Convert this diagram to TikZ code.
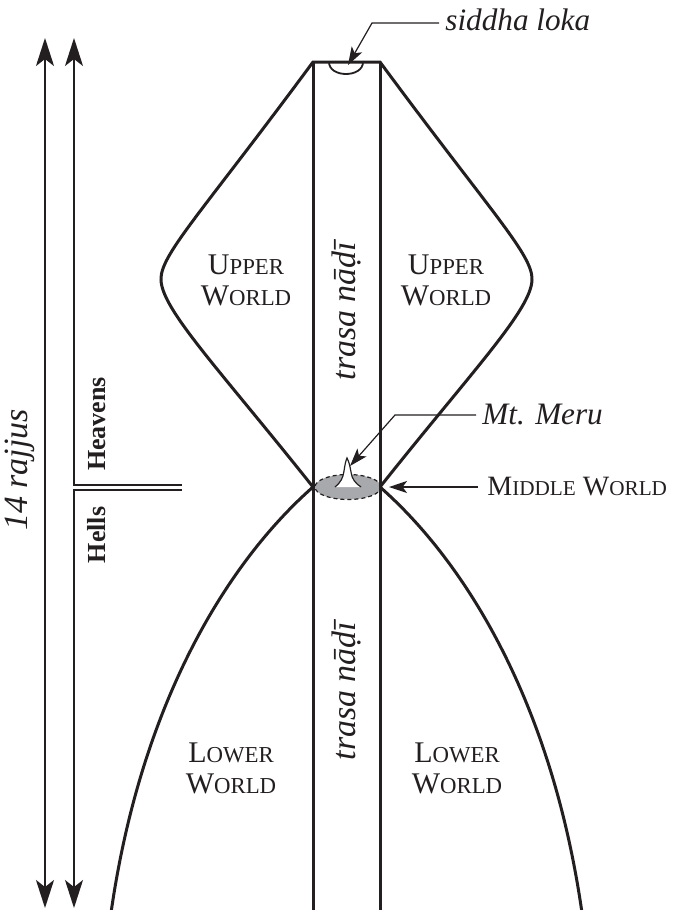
\documentclass[tikz,border=0pt]{standalone}
\usepackage{fontspec}
\setmainfont{Liberation Serif}
\usetikzlibrary{arrows.meta,shapes.geometric}
\definecolor{ink}{HTML}{231F20}
\definecolor{mw}{HTML}{A7A9AC}
\newcommand{\fakesc}[2]{#1{\fontsize{11.4pt}{12pt}\selectfont #2}}
\newcommand{\fakescs}[2]{#1{\fontsize{10.6pt}{12pt}\selectfont #2}}
\tikzset{BigS/.tip={Stealth[length=14pt,width=9pt,inset=3.5pt]},
         SmallS/.tip={Stealth[length=9pt,width=6pt,inset=2.2pt]}}
\begin{document}
\begin{tikzpicture}[x=0.5pt,y=-0.5pt,
  main/.style={draw=ink,line width=1.5pt,line join=miter},
  leader/.style={draw=ink,line width=0.6pt},
  smalltip/.style={-{SmallS}},
  lbl/.style={font=\fontsize{15pt}{15.5pt}\selectfont,align=center,inner sep=0pt,text=ink},
  itlbl/.style={font=\fontsize{15.6pt}{16pt}\selectfont\itshape,inner sep=0pt,text=ink},
  bdlbl/.style={font=\fontsize{13pt}{14pt}\selectfont\bfseries,inner sep=0pt,text=ink}
]
\useasboundingbox (0,0) rectangle (674,910);
\clip (0,0) rectangle (674,910);

% middle world disc
\node[draw=ink,dashed,dash pattern=on 2pt off 1.5pt,line width=0.6pt,fill=mw,ellipse,minimum width=33pt,minimum height=12.5pt,inner sep=0pt] (disc) at (348,487) {};
% Mt. Meru
\coordinate (pk) at (347,458);
\fill[white] (335,487) .. controls (341,482) and (343,478) .. (344,471) .. controls (345,464) and (346,460) .. (pk)
  .. controls (349,462) and (350,466) .. (351,472) .. controls (352,479) and (355,483) .. (361,487) -- cycle;
\draw[ink,line width=0.6pt] (335,487) .. controls (341,482) and (343,478) .. (344,471) .. controls (345,464) and (346,460) .. (pk)
  .. controls (349,462) and (350,466) .. (351,472) .. controls (352,479) and (355,483) .. (361,487);

% key points
\coordinate (tl) at (313,62);
\coordinate (tr) at (380,62);
\coordinate (ml) at (313,487);
\coordinate (mr) at (380,487);
\coordinate (bl) at (313,915);
\coordinate (br) at (380,915);

% upper world outline
\draw[main] (ml) .. controls (220,370) and (162,310) .. (161,280)
  .. controls (160,255) and (200,215) .. (tl) -- (tr)
  .. controls (493,215) and (533,255) .. (532,280)
  .. controls (531,310) and (473,370) .. (mr);
% lower world outline
\draw[main] (ml) .. controls (230,560) and (140,700) .. (110,920);
\draw[main] (mr) .. controls (463,560) and (553,700) .. (583,920);
% trasa nadi column
\draw[main] (tl) -- (bl);
\draw[main] (tr) -- (br);

% siddha loka
\draw[ink,line width=0.9pt] (329,62) .. controls (329,78) and (363,78) .. (363,62);
\node[itlbl,anchor=base west] (sl) at (445,30) {siddha loka};
\coordinate (slt) at (348,65);
\draw[leader,smalltip] ([xshift=-3pt]sl.west |- 0,23) -- (372,23) -- (slt);

% Mt. Meru label
\node[itlbl,anchor=west] (mm) at (482,415) {Mt. Meru};
\coordinate (mmt) at (350,466);
\draw[leader,smalltip] ([xshift=-3pt]mm.west) -- (395,415) -- (mmt);

% Middle World label
\node[lbl,anchor=west,font=\fontsize{14pt}{15pt}\selectfont] (mwl) at (487,487) {\fakescs{M}{IDDLE} \fakescs{W}{ORLD}};
\coordinate (mwt) at (389,487);
\draw[leader,smalltip,line width=0.7pt] ([xshift=-4.5pt]mwl.west) -- (mwt);

% world labels
\node[lbl] (uwl) at (246,280) {\fakesc{U}{PPER}\\\fakesc{W}{ORLD}};
\node[lbl] (uwr) at (446,280) {\fakesc{U}{PPER}\\\fakesc{W}{ORLD}};
\node[lbl] (lwl) at (231,768) {\fakesc{L}{OWER}\\\fakesc{W}{ORLD}};
\node[lbl] (lwr) at (457,768) {\fakesc{L}{OWER}\\\fakesc{W}{ORLD}};

% trasa nadi labels
\node[itlbl,rotate=90,font=\fontsize{17pt}{18pt}\selectfont\itshape] (tn1) at (347,311) {trasa nāḍī};
\node[itlbl,rotate=90,font=\fontsize{17pt}{18pt}\selectfont\itshape] (tn2) at (347,691) {trasa nāḍī};

% left scale arrows
\coordinate (a1t) at (45,38);
\coordinate (a1b) at (45,908);
\draw[ink,line width=1.1pt,{BigS}-{BigS}] (a1t) -- (a1b);
\coordinate (a2t) at (74,38);
\coordinate (a2b) at (74,908);
\coordinate (hv) at (182,485);
\coordinate (hl) at (182,490);
\draw[ink,line width=0.8pt,{BigS}-] (a2t) -- (74,485) -- (hv);
\draw[ink,line width=0.8pt,-{BigS}] (hl) -- (74,490) -- (a2b);

\node[itlbl,rotate=90,font=\fontsize{17pt}{18pt}\selectfont\itshape] (raj) at (20,470) {14 rajjus};
\node[bdlbl,rotate=90] (heav) at (97,424) {Heavens};
\node[bdlbl,rotate=90] (hell) at (97,535) {Hells};
\end{tikzpicture}
\end{document}
